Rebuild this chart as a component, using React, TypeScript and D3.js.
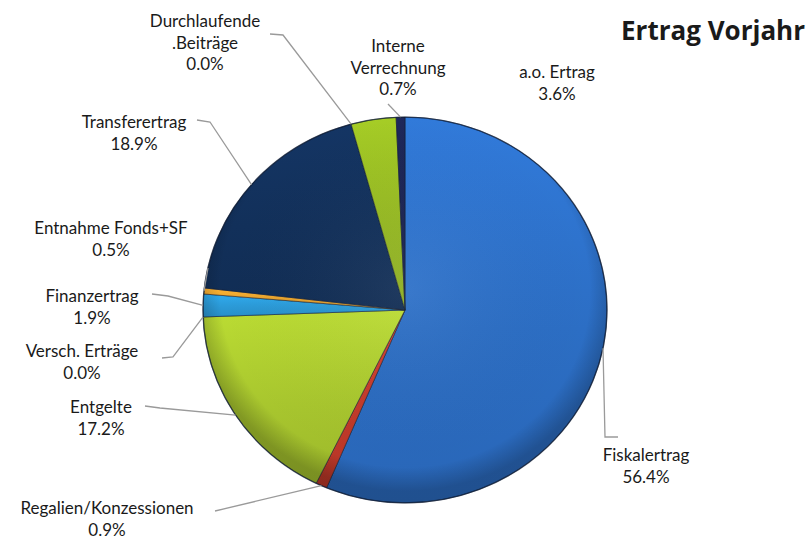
import React from "react";
import * as d3 from "d3";

const categories = [
  "Fiskalertrag",
  "Regalien/Konzessionen",
  "Entgelte",
  "Versch. Erträge",
  "Finanzertrag",
  "Entnahme Fonds+SF",
  "Transferertrag",
  "Durchlaufende Beiträge",
  "a.o. Ertrag",
  "Interne Verrechnung",
];
const values = [56.4, 0.9, 17.2, 0.0, 1.9, 0.5, 18.9, 0.0, 3.6, 0.7];
const colors = [
  "#2c6ec4",
  "#c23a2a",
  "#a8c62e",
  "#888888",
  "#2b9ad7",
  "#e6a22e",
  "#12305a",
  "#777777",
  "#95b822",
  "#1b2452",
];
// label text lines (percent appended from values)
const labelLines = [
  ["Fiskalertrag"],
  ["Regalien/Konzessionen"],
  ["Entgelte"],
  ["Versch. Erträge"],
  ["Finanzertrag"],
  ["Entnahme Fonds+SF"],
  ["Transferertrag"],
  ["Durchlaufende", ".Beiträge"],
  ["a.o. Ertrag"],
  ["Interne", "Verrechnung"],
];
// label layout: text centre x, first baseline y, leader points (label side)
const labelLayout: { x: number; y: number; leader: [number, number][] }[] = [
  { x: 646, y: 461, leader: [[618, 437], [605, 437]] },
  { x: 107, y: 514, leader: [[215, 511]] },
  { x: 101, y: 413, leader: [[145, 406], [160, 408]] },
  { x: 82, y: 357, leader: [[162, 358], [173, 357]] },
  { x: 92, y: 302, leader: [[152, 294], [168, 296]] },
  { x: 111, y: 234, leader: [[208, 268]] },
  { x: 134, y: 128, leader: [[197, 120], [210, 122]] },
  { x: 205, y: 27, leader: [[270, 34], [283, 35]] },
  { x: 557, y: 78, leader: [] },
  { x: 398, y: 52, leader: [[388, 104]] },
];

const W = 807;
const H = 540;
const CX = 405;
const CY = 310;
const R = 202;
const SY = 0.955;
const FONT = "Lato, 'Open Sans', sans-serif";

export default function App() {
  const data = values.map((v, i) => ({ v, i }));
  const pie = d3
    .pie<{ v: number; i: number }>()
    .value((d) => d.v)
    .sort(null)
    .startAngle(0)
    .endAngle(2 * Math.PI);
  const arcs = pie(data);
  const arc = d3
    .arc<d3.PieArcDatum<{ v: number; i: number }>>()
    .innerRadius(0)
    .outerRadius(R);

  const edgePoint = (a: number): [number, number] => [
    CX + R * Math.sin(a),
    CY - R * SY * Math.cos(a),
  ];

  const lighten = (c: string, k: number) => d3.color(c)!.brighter(k).formatHex();
  const darken = (c: string, k: number) => d3.color(c)!.darker(k).formatHex();

  return (
    <svg
      width={W}
      height={H}
      style={{ position: "absolute", left: 0, top: 0, background: "#fff" }}
      fontFamily={FONT}
    >
      <defs>
        {colors.map((c, i) => (
          <linearGradient key={i} id={`g${i}`} x1="0" y1="0" x2="0" y2="1">
            <stop offset="0%" stopColor={lighten(c, 0.3)} />
            <stop offset="55%" stopColor={c} />
            <stop offset="100%" stopColor={darken(c, 0.2)} />
          </linearGradient>
        ))}
        <radialGradient id="shade" cx="50%" cy="45%" r="52%">
          <stop offset="0%" stopColor="#ffffff" stopOpacity={0.06} />
          <stop offset="88%" stopColor="#000000" stopOpacity={0} />
          <stop offset="100%" stopColor="#000000" stopOpacity={0.22} />
        </radialGradient>
      </defs>

      <g transform={`translate(${CX},${CY}) scale(1,${SY})`}>
        {arcs.map((a) =>
          a.data.v > 0 ? (
            <path
              key={a.index}
              d={arc(a) || ""}
              fill={`url(#g${a.index})`}
              stroke="#10192e"
              strokeWidth={0.8}
              strokeOpacity={0.7}
            />
          ) : null
        )}
        <circle r={R} fill="url(#shade)" pointerEvents="none" />
        <circle r={R} fill="none" stroke="#0d1a33" strokeWidth={1.4} strokeOpacity={0.65} />
      </g>

      {/* leader lines */}
      {arcs.map((a) => {
        const L = labelLayout[a.index];
        if (!L.leader.length) return null;
        const mid = (a.startAngle + a.endAngle) / 2;
        const pts = [...L.leader, edgePoint(mid)];
        return (
          <polyline
            key={`l${a.index}`}
            points={pts.map((p) => p.join(",")).join(" ")}
            fill="none"
            stroke="#9a9a9a"
            strokeWidth={1.3}
          />
        );
      })}

      {/* labels */}
      {arcs.map((a) => {
        const L = labelLayout[a.index];
        const lines = [...labelLines[a.index], `${values[a.index].toFixed(1)}%`];
        return (
          <text
            key={`t${a.index}`}
            x={L.x}
            y={L.y}
            textAnchor="middle"
            fontSize={17}
            fill="#1a1a1a"
          >
            {lines.map((ln, k) => (
              <tspan key={k} x={L.x} dy={k === 0 ? 0 : 21.5}>
                {ln}
              </tspan>
            ))}
          </text>
        );
      })}

      <text
        x={805}
        y={40}
        textAnchor="end"
        fontSize={26}
        fontWeight="bold"
        fontFamily="'Open Sans', Lato, sans-serif"
        fill="#1a1a1a"
      >
        Ertrag Vorjahr
      </text>
    </svg>
  );
}
